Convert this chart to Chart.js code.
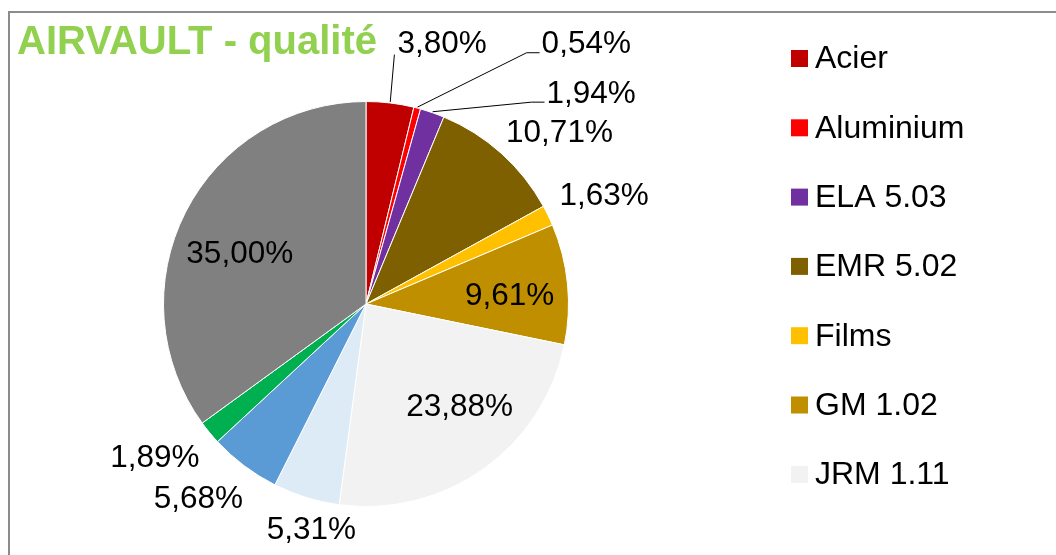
<!DOCTYPE html>
<html>
<head>
<meta charset="utf-8">
<script src="https://cdn.jsdelivr.net/npm/chart.js@4/dist/chart.umd.min.js"></script>
<style>
  body { margin: 0; background: #fff; }
  #wrap { position: relative; width: 1056px; height: 555px; overflow: hidden; }
  #frame { position: absolute; left: 8px; top: 11px; width: 1100px; height: 600px;
           border-left: 2px solid #8c8c8c; border-top: 2px solid #8c8c8c; }
  canvas { position: absolute; left: 0; top: 0; }
</style>
</head>
<body>
<div id="wrap">
  <div id="frame"></div>
  <canvas id="qualiteChart" width="1056" height="555"></canvas>
</div>
<script>
const title = 'AIRVAULT - qualité';

// the legend in the picture is cut after JRM 1.11, the last 4 names can't be read
const categories = ['Acier', 'Aluminium', 'ELA 5.03', 'EMR 5.02', 'Films', 'GM 1.02', 'JRM 1.11', '', '', '', ''];
const shares = [3.80, 0.54, 1.94, 10.71, 1.63, 9.61, 23.88, 5.31, 5.68, 1.89, 35.00];
const colors = ['#C00000', '#FF0000', '#7030A0', '#7F6000', '#FFC000', '#BF8F00', '#F2F2F2', '#DDEBF7', '#5B9BD5', '#00B050', '#808080'];

// label placement: angle shift (deg) from slice middle, distance as ratio of radius
const labelShift = [9.5, 25.7, 27.9, 6.7, 1.6, 2.5, -6.7, -3.6, 3.7, 3.3, -5.5];
const labelDist = [1.335, 1.68, 1.52, 1.274, 1.29, 0.71, 0.69, 1.15, 1.27, 1.29, 0.67];
const leaders = [true, true, true, false, false, false, false, false, false, false, false];

const FONT = '"Liberation Sans", Arial, sans-serif';

function fmt(v) {
  return v.toFixed(2).replace('.', ',') + '%';
}

const pieLabels = {
  id: 'pieLabels',
  afterDatasetsDraw(chart) {
    const ctx = chart.ctx;
    const meta = chart.getDatasetMeta(0);
    ctx.save();
    ctx.font = '31.5px ' + FONT;
    ctx.fillStyle = '#000';
    ctx.strokeStyle = '#000';
    ctx.lineWidth = 1;
    ctx.textAlign = 'center';
    ctx.textBaseline = 'middle';
    meta.data.forEach((arc, i) => {
      const p = arc.getProps(['x', 'y', 'startAngle', 'endAngle', 'outerRadius'], true);
      const mid = (p.startAngle + p.endAngle) / 2;
      const a = mid + labelShift[i] * Math.PI / 180;
      const d = p.outerRadius * labelDist[i];
      const tx = p.x + Math.cos(a) * d;
      const ty = p.y + Math.sin(a) * d;
      const text = fmt(shares[i]);
      ctx.fillText(text, tx, ty);

      if (leaders[i]) {
        const w = ctx.measureText(text).width;
        const left = tx - w / 2;
        const sx = p.x + Math.cos(mid) * (p.outerRadius + 1);
        const sy = p.y + Math.sin(mid) * (p.outerRadius + 1);
        ctx.beginPath();
        ctx.moveTo(sx, sy);
        if (i === 0) {
          ctx.lineTo(left - 3, ty + 10);
        } else {
          ctx.lineTo(left - 15, ty + 8);
          ctx.lineTo(left - 2, ty + 8);
        }
        ctx.stroke();
      }
    });
    ctx.restore();
  }
};

const sideLegend = {
  id: 'sideLegend',
  afterDraw(chart) {
    const ctx = chart.ctx;
    const ds = chart.data.datasets[0];
    ctx.save();
    ctx.font = '32px ' + FONT;
    ctx.textAlign = 'left';
    ctx.textBaseline = 'middle';
    let row = 0;
    chart.data.labels.forEach((label, i) => {
      if (!label) return;
      const cy = 58.5 + row * 69.3;
      ctx.fillStyle = ds.backgroundColor[i];
      ctx.fillRect(791, cy - 8.5, 17, 17);
      ctx.fillStyle = '#000';
      ctx.fillText(label, 815, cy + 1);
      row++;
    });

    ctx.font = 'bold 40px ' + FONT;
    ctx.fillStyle = '#92D050';
    ctx.textBaseline = 'alphabetic';
    ctx.fillText(title, 17, 54);
    ctx.restore();
  }
};

function drawChart() {
  const ctx = document.getElementById('qualiteChart');
  const myChart = new Chart(ctx, {
    type: 'pie',
    data: {
      labels: categories,
      datasets: [{
        data: shares,
        backgroundColor: colors,
        borderColor: '#ffffff',
        borderWidth: 1
      }]
    },
    options: {
      responsive: false,
      animation: false,
      layout: {
        padding: { left: 163, right: 487, top: 101, bottom: 48 }
      },
      plugins: {
        legend: { display: false },
        tooltip: { enabled: false },
        title: { display: false }
      }
    },
    plugins: [pieLabels, sideLegend]
  });
}

drawChart();
</script>
</body>
</html>
